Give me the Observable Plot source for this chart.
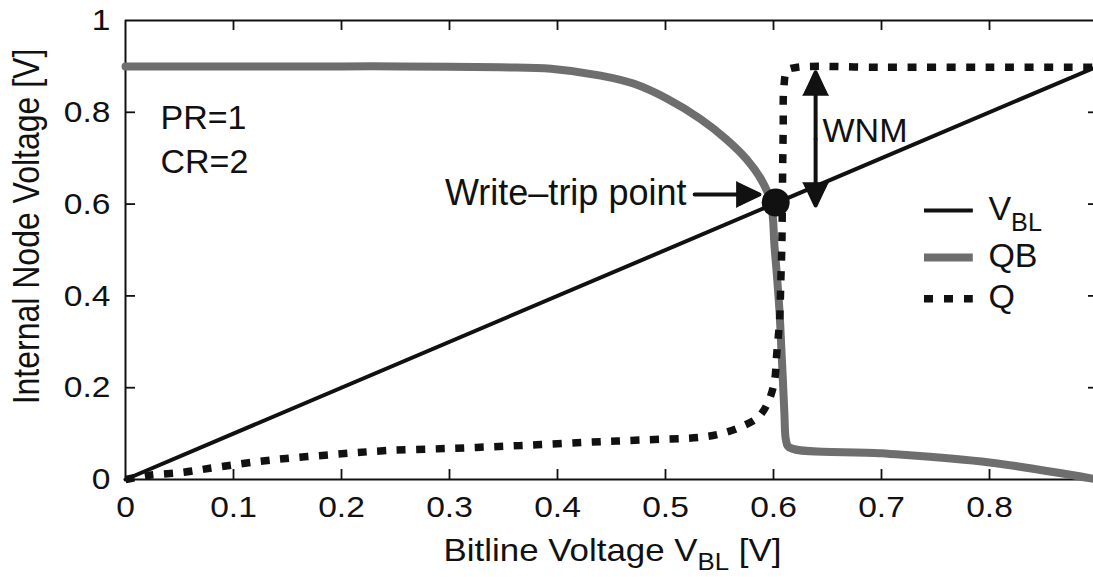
<!DOCTYPE html>
<html>
<head>
<meta charset="utf-8">
<script src="https://cdn.jsdelivr.net/npm/d3@7"></script>
<script src="https://cdn.jsdelivr.net/npm/@observablehq/plot@0.6"></script>
<style>
  html, body { margin: 0; padding: 0; background: #fff; overflow: hidden; }
</style>
</head>
<body>
<div id="chart"></div>
<script>
// ---------------- data ----------------
const vblX = [0, 0.9];
const vblY = [0, 0.9];

const qbX = [0, 0.1, 0.2, 0.255, 0.347, 0.394, 0.44, 0.471, 0.502, 0.532, 0.556, 0.575, 0.589, 0.5975,
             0.601, 0.6035, 0.6057, 0.6072, 0.6087, 0.6101, 0.6116, 0.6145, 0.7, 0.8, 0.9];
const qbY = [0.900, 0.900, 0.900, 0.900, 0.898, 0.895, 0.880, 0.862, 0.829, 0.786, 0.742, 0.698, 0.652, 0.605,
             0.506, 0.434, 0.361, 0.288, 0.216, 0.143, 0.085, 0.070, 0.057, 0.037, 0.000];

const qX = [0, 0.0216, 0.054, 0.088, 0.137, 0.190, 0.242, 0.304, 0.366, 0.427, 0.477, 0.532, 0.551, 0.569,
            0.586, 0.5957, 0.601, 0.603, 0.6056, 0.6068, 0.6077, 0.608, 0.6085, 0.609, 0.6096, 0.6127, 0.622,
            0.7, 0.8, 0.9];
const qY = [0, 0.009, 0.016, 0.028, 0.043, 0.054, 0.063, 0.068, 0.074, 0.081, 0.086, 0.092, 0.0995, 0.114,
            0.136, 0.172, 0.216, 0.274, 0.346, 0.434, 0.506, 0.557, 0.680, 0.7675, 0.855, 0.891, 0.898,
            0.898, 0.898, 0.898];

const tripPoint = [{x: 0.602, y: 0.6035}];

const xTicks = [0, 0.1, 0.2, 0.3, 0.4, 0.5, 0.6, 0.7, 0.8];
const xTickLabels = ["0", "0.1", "0.2", "0.3", "0.4", "0.5", "0.6", "0.7", "0.8"];
const yTicks = [0, 0.2, 0.4, 0.6, 0.8, 1];
const yTickLabels = ["0", "0.2", "0.4", "0.6", "0.8", "1"];

const seriesNames = ["V_BL", "QB", "Q"];
const xTitle = "Bitline Voltage V_BL [V]";
const yTitle = "Internal Node Voltage [V]";
const noteLines = ["PR=1", "CR=2"];
const tripLabel = "Write\u2013trip point";
const wnmLabel = "WNM";

// ---------------- layout / style constants ----------------
const W = 1093, H = 577, ML = 125, MT = 20, MB = 98, MR = 0;
const X_RIGHT = 1097;                 // x = 0.9 lies just past the cropped right edge
const FRAME_W = W - ML - MR, FRAME_H = H - MT - MB;
const FONT = "'Liberation Sans', Arial, Helvetica, sans-serif";
const INK = "#111", GRAY = "#6e6e6e";
const TICK = 10;

// annotation anchors (data units)
const NOTE_POS = {x: 0.0324, y: [0.7865, 0.6906]};
const TRIP_LABEL_POS = {x: 0.5194, y: 0.623};
const TRIP_ARROW = {x1: 0.527, x2: 0.587, y: 0.621};
const WNM_ARROW = {x: 0.639, yLow: 0.597, yHigh: 0.887};
const WNM_LABEL_POS = {x: 0.6454, y: 0.7593};
const LEG = {x1: 0.7398, x2: 0.785, tx: 0.799, y: [0.586, 0.4837, 0.394], ty: [0.588, 0.486, 0.397]};

const rows = (xs, ys) => xs.map((x, i) => ({x, y: ys[i]}));
const vblRows = rows(vblX, vblY);
const qbRows = rows(qbX, qbY);
const qRows = rows(qX, qY);
const xLab = new Map(xTicks.map((d, i) => [d, xTickLabels[i]]));
const yLab = new Map(yTicks.map((d, i) => [d, yTickLabels[i]]));

const wnmMid = (WNM_ARROW.yLow + WNM_ARROW.yHigh) / 2;
const arrowStyle = {stroke: INK, strokeWidth: 4, headLength: 30, headAngle: 50, bend: 0};
const HEAD_R = 10, HEAD_OFF = 1.555 * HEAD_R;   // filled core of each arrow head
const heads = [
  {x: TRIP_ARROW.x2, y: TRIP_ARROW.y, rot: 90, dx: -HEAD_OFF, dy: 0},
  {x: WNM_ARROW.x, y: WNM_ARROW.yHigh, rot: 0, dx: 0, dy: HEAD_OFF},
  {x: WNM_ARROW.x, y: WNM_ARROW.yLow, rot: 180, dx: 0, dy: -HEAD_OFF}
];

const svg = Plot.plot({
  width: W, height: H,
  marginLeft: ML, marginRight: MR, marginTop: MT, marginBottom: MB,
  x: {domain: [0, 0.9], range: [ML, X_RIGHT], label: null},
  y: {domain: [0, 1], label: null},
  style: {fontFamily: FONT, fontSize: "30px", background: "#fff", color: INK, overflow: "hidden"},
  marks: [
    // frame (right side is cropped in the reference)
    Plot.ruleY([0, 1], {stroke: INK, strokeWidth: 2}),
    Plot.ruleX([0], {stroke: INK, strokeWidth: 2}),
    // inward ticks
    Plot.tickX(xTicks.slice(1), {x: d => d, insetTop: FRAME_H - TICK, stroke: INK, strokeWidth: 1.8}),
    Plot.tickX(xTicks.slice(1), {x: d => d, insetBottom: FRAME_H - TICK, stroke: INK, strokeWidth: 1.8}),
    Plot.tickY(yTicks.slice(1, -1), {y: d => d, insetRight: FRAME_W - TICK, stroke: INK, strokeWidth: 1.8}),
    Plot.tickY(yTicks.slice(1, -1), {y: d => d, insetLeft: FRAME_W - 5, stroke: INK, strokeWidth: 1.8}),
    // tick labels
    Plot.axisX({ticks: xTicks, tickFormat: d => xLab.get(d), tickSize: 0, tickPadding: 16,
                fontSize: 30, label: null, fill: INK}),
    Plot.axisY({ticks: yTicks, tickFormat: d => yLab.get(d), tickSize: 0, tickPadding: 15,
                fontSize: 30, label: null, fill: INK}),
    // series
    Plot.line(qbRows, {x: "x", y: "y", stroke: GRAY, strokeWidth: 8, curve: "catmull-rom"}),
    Plot.line(vblRows, {x: "x", y: "y", stroke: INK, strokeWidth: 4}),
    Plot.line(qRows, {x: "x", y: "y", stroke: INK, strokeWidth: 7.5, strokeDasharray: "9 10.5",
                      strokeLinecap: "butt", strokeLinejoin: "miter", curve: "catmull-rom"}),
    Plot.dot(tripPoint, {x: "x", y: "y", r: 14, fill: INK}),
    // annotations
    Plot.arrow([0], {x1: TRIP_ARROW.x1, x2: TRIP_ARROW.x2, y1: TRIP_ARROW.y, y2: TRIP_ARROW.y, ...arrowStyle}),
    Plot.arrow([0], {x1: WNM_ARROW.x, x2: WNM_ARROW.x, y1: wnmMid, y2: WNM_ARROW.yHigh, ...arrowStyle}),
    Plot.arrow([0], {x1: WNM_ARROW.x, x2: WNM_ARROW.x, y1: wnmMid, y2: WNM_ARROW.yLow, ...arrowStyle}),
    ...heads.map(h => Plot.dot([h], {x: "x", y: "y", rotate: "rot", dx: h.dx, dy: h.dy, symbol: "triangle",
                                     r: HEAD_R, fill: INK, stroke: "none"})),
    Plot.text([tripLabel], {x: TRIP_LABEL_POS.x, y: TRIP_LABEL_POS.y, text: d => d, textAnchor: "end",
                            lineAnchor: "middle", fontSize: 36, fill: INK}),
    Plot.text([wnmLabel], {x: WNM_LABEL_POS.x, y: WNM_LABEL_POS.y, text: d => d, textAnchor: "start",
                           lineAnchor: "middle", fontSize: 34, fill: INK}),
    Plot.text(noteLines, {x: NOTE_POS.x, y: (d, i) => NOTE_POS.y[i], text: d => d, textAnchor: "start",
                          lineAnchor: "middle", fontSize: 34, fill: INK}),
    // legend
    Plot.ruleY([LEG.y[0]], {x1: LEG.x1, x2: LEG.x2, stroke: INK, strokeWidth: 4}),
    Plot.ruleY([LEG.y[1]], {x1: LEG.x1, x2: LEG.x2, stroke: GRAY, strokeWidth: 8}),
    Plot.ruleY([LEG.y[2]], {x1: LEG.x1, x2: LEG.x2, stroke: INK, strokeWidth: 7.5,
                            strokeDasharray: "9 11", strokeLinecap: "butt"}),
    Plot.text(seriesNames, {x: LEG.tx, y: (d, i) => LEG.ty[i], text: d => d, textAnchor: "start",
                            lineAnchor: "middle", fontSize: 34, fill: INK}),
    // axis titles
    Plot.text([xTitle], {frameAnchor: "bottom", dx: 3, dy: 71, text: d => d, textAnchor: "middle",
                         lineAnchor: "middle", fontSize: 32, fill: INK}),
    Plot.text([yTitle], {frameAnchor: "left", rotate: -90, dx: -98.5, dy: -23.5, text: d => d,
                         textAnchor: "middle", lineAnchor: "middle", fontSize: 32, fill: INK})
  ]
});

document.getElementById("chart").append(svg);

// ---- subscripts: "V_BL" -> V with subscript BL ----
const NS = "http://www.w3.org/2000/svg";
svg.querySelectorAll("text").forEach(t => {
  const s = t.textContent;
  const m = s.match(/^(.*?)_([A-Za-z]+)(.*)$/);
  if (!m) return;
  const fs = parseFloat(getComputedStyle(t).fontSize) || 30;
  t.textContent = "";
  const a = document.createElementNS(NS, "tspan"); a.textContent = m[1];
  const b = document.createElementNS(NS, "tspan"); b.textContent = m[2];
  b.setAttribute("font-size", fs * 0.74); b.setAttribute("dy", fs * 0.3);
  t.append(a, b);
  if (m[3]) {
    const c = document.createElementNS(NS, "tspan"); c.textContent = m[3];
    c.setAttribute("dy", -fs * 0.3);
    t.append(c);
  }
});

// ---- horizontal stretch of glyphs, to match the reference's wide lettering ----
function stretchOf(t) {
  const g = t.closest("g[aria-label]");
  const lab = g ? g.getAttribute("aria-label") : "";
  if (lab.includes("tick label")) return 1.12;
  const s = t.textContent;
  if (s.startsWith("Bitline")) return 1.09;
  if (s.startsWith("Internal")) return 1.17;
  return 1;
}
svg.querySelectorAll("text").forEach(t => {
  const k = stretchOf(t);
  if (k === 1) return;
  const bb = t.getBBox();
  const tr = t.getAttribute("transform") || "";
  if (tr.includes("rotate")) {
    const cy = bb.y + bb.height / 2;
    t.setAttribute("transform", `${tr} translate(0,${cy}) scale(1,${k}) translate(0,${-cy})`);
  } else {
    const anchor = getComputedStyle(t).textAnchor;
    const ax = anchor === "end" ? bb.x + bb.width : anchor === "middle" ? bb.x + bb.width / 2 : bb.x;
    t.setAttribute("transform", `${tr} translate(${ax},0) scale(${k},1) translate(${-ax},0)`);
  }
});
</script>
</body>
</html>
